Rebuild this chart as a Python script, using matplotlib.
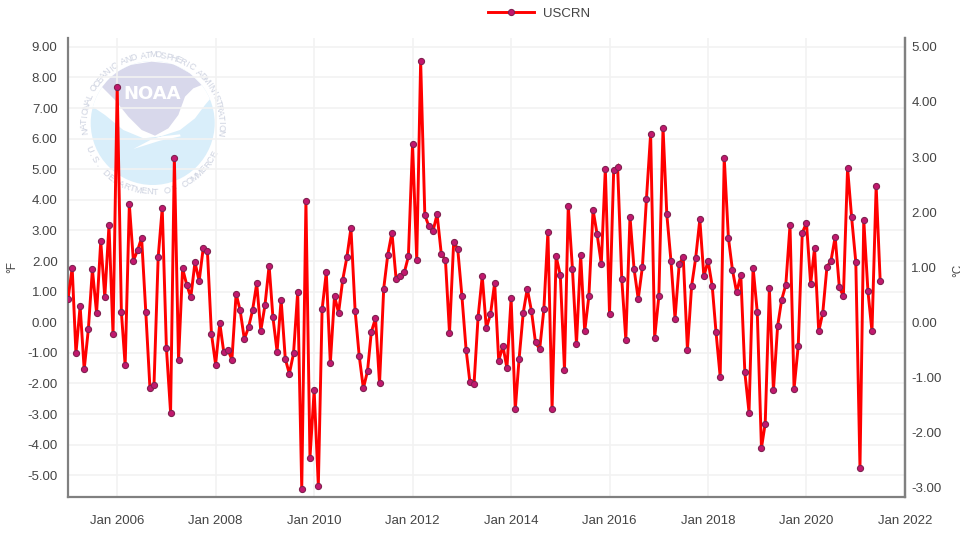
import numpy as np
import pandas as pd
import matplotlib
matplotlib.use("Agg")
import matplotlib.pyplot as plt
import matplotlib.dates as mdates
from matplotlib.patches import Circle, Polygon, Rectangle

plt.rcParams['font.family'] = ['Liberation Sans', 'DejaVu Sans']

values_f = [
 0.75, 1.78, -1.02, 0.53, -1.54, -0.23, 1.73, 0.30, 2.65, 0.82, 3.17, -0.39,
 7.70, 0.33, -1.41, 3.85, 2.01, 2.35, 2.76, 0.34, -2.16, -2.04, 2.13, 3.73,
 -0.84, -2.95, 5.38, -1.24, 1.76, 1.22, 0.82, 1.96, 1.35, 2.42, 2.34, -0.37,
 -1.38, -0.03, -0.96, -0.90, -1.22, 0.93, 0.39, -0.55, -0.17, 0.39, 1.27, -0.28,
 0.55, 1.85, 0.17, -0.96, 0.74, -1.20, -1.68, -1.02, 1.00, -5.45, 3.96, -4.43,
 -2.22, -5.34, 0.42, 1.63, -1.34, 0.86, 0.31, 1.39, 2.13, 3.08, 0.37, -1.09,
 -2.16, -1.59, -0.32, 0.13, -2.00, 1.10, 2.20, 2.93, 1.41, 1.51, 1.63, 2.15,
 5.83, 2.03, 8.54, 3.50, 3.14, 2.99, 3.53, 2.24, 2.03, -0.35, 2.62, 2.40,
 0.86, -0.89, -1.94, -2.02, 0.17, 1.51, -0.19, 0.26, 1.29, -1.26, -0.77, -1.50,
 0.78, -2.85, -1.21, 0.31, 1.10, 0.37, -0.66, -0.88, 0.42, 2.96, -2.83, 2.15,
 1.54, -1.56, 3.81, 1.75, -0.71, 2.20, -0.30, 0.86, 3.67, 2.88, 1.91, 5.02,
 0.28, 4.96, 5.09, 1.41, -0.57, 3.45, 1.75, 0.76, 1.81, 4.03, 6.16, -0.50,
 0.85, 6.36, 3.53, 2.00, 0.12, 1.90, 2.13, -0.89, 1.18, 2.09, 3.36, 1.50,
 2.01, 1.18, -0.32, -1.78, 5.38, 2.76, 1.71, 0.98, 1.54, -1.64, -2.95, 1.79,
 0.34, -4.11, -3.31, 1.11, -2.22, -0.13, 0.73, 1.23, 3.17, -2.17, -0.77, 2.92,
 3.25, 1.25, 2.43, -0.30, 0.31, 1.81, 2.01, 2.79, 1.14, 0.86, 5.04, 3.43,
 1.97, -4.76, 3.35, 1.02, -0.30, 4.45, 1.34,
]
series_name = "USCRN"
start_month = "2005-01-01"
y_ticks_f = [-5, -4, -3, -2, -1, 0, 1, 2, 3, 4, 5, 6, 7, 8, 9]
y_ticks_c = [-3, -2, -1, 0, 1, 2, 3, 4, 5]
x_tick_years = [2006, 2008, 2010, 2012, 2014, 2016, 2018, 2020, 2022]

W, H = 969, 533
fig = plt.figure(figsize=(W / 100, H / 100), dpi=100, facecolor="white")
L, R, T, B = 68, 905, 38, 496.7
rect = [L / W, 1 - B / H, (R - L) / W, (B - T) / H]

# NOAA watermark behind the plot
bg = fig.add_axes([0, 0, 1, 1], zorder=0)
bg.set_xlim(0, W); bg.set_ylim(H, 0); bg.axis("off")
def z(pts):
    return [(80 + a / 3, 50 + b / 3) for a, b in pts]
cx, cy, r = 152.7, 123.0, 62.0
disc = Circle((cx, cy), r, fc="#d9eefa", ec="none")
bg.add_patch(disc)
top = Polygon(z([(35, 168), (75, 195), (130, 240), (190, 265), (300, 253), (302, 259),
                 (240, 272), (160, 297), (215, 268), (300, 240), (345, 205), (375, 165),
                 (402, 133), (420, 0), (0, 0), (0, 168)]), fc="white", ec="none")
bg.add_patch(top); top.set_clip_path(disc)
lav = Polygon(z([(65, 110), (100, 70), (150, 45), (215, 35), (280, 42), (330, 70), (365, 105),
                 (340, 115), (315, 140), (295, 195), (265, 235), (225, 257), (185, 240),
                 (145, 200), (105, 150)]), fc="#d8d8eb", ec="none")
bg.add_patch(lav); lav.set_clip_path(disc)
bg.text(152.5, 94, "NOAA", color="white", fontsize=13, fontweight="bold", ha="center", va="center",
        family=["DejaVu Sans"])
def ring(text, a0, a1, rad, flip=False):
    for ch, a in zip(text, np.linspace(a0, a1, len(text))):
        t = np.radians(a)
        x, y = cx + rad * np.cos(t), cy - rad * np.sin(t)
        rot = a - 90 if not flip else a + 90
        bg.text(x, y, ch, fontsize=6.5, color="#cdd2e0", ha="center", va="center",
                rotation=rot, rotation_mode="anchor")
ring("NATIONAL OCEANIC AND ATMOSPHERIC ADMINISTRATION", 187, -8, 68)
ring("U.S. DEPARTMENT OF COMMERCE", 202, 333, 69, flip=True)

# main chart
ax = fig.add_axes(rect, zorder=1)
ax.patch.set_alpha(0)
dates = pd.date_range(start_month, periods=len(values_f), freq="MS")
line, = ax.plot(dates, values_f, color="#ff0000", lw=2.1, marker="o", ms=4.4,
                mfc="#c2186f", mec="#80204f", mew=0.8, solid_joinstyle="miter", zorder=3,
                label=series_name)
ax.set_xlim(pd.Timestamp("2005-01-01"), pd.Timestamp("2022-01-01"))
ax.set_ylim(-5.70, 9.29)
ax.set_yticks(y_ticks_f)
ax.set_yticklabels([f"{v:.2f}" for v in y_ticks_f])
ax.set_xticks([pd.Timestamp(f"{y}-01-01") for y in x_tick_years])
ax.xaxis.set_major_formatter(mdates.DateFormatter("Jan %Y"))
ax.grid(True, color="#f2f2f2", lw=1.2, zorder=0)
ax.set_axisbelow(True)
for s in ("top",):
    ax.spines[s].set_visible(False)
for s in ("left", "bottom", "right"):
    ax.spines[s].set_color("#808080"); ax.spines[s].set_linewidth(1.6)
ax.tick_params(axis="x", length=0, pad=13, labelsize=9.5, labelcolor="#444444")
ax.tick_params(axis="y", length=0, pad=7.5, labelsize=9.5, labelcolor="#444444")

ax2 = ax.twinx()
ax2.set_ylim(-5.70 / 1.8, 9.29 / 1.8)
ax2.set_yticks(y_ticks_c)
ax2.set_yticklabels([f"{v:.2f}" for v in y_ticks_c])
ax2.tick_params(axis="y", length=0, pad=4.5, labelsize=9.5, labelcolor="#444444")
for s in ("top", "left", "bottom"):
    ax2.spines[s].set_visible(False)
ax2.spines["right"].set_color("#808080"); ax2.spines["right"].set_linewidth(1.6)

fig.text(12 / W, 1 - 267 / H, "°F", rotation=90, ha="center", va="center",
         fontsize=8.5, color="#444444")
fig.text(958.5 / W, 1 - 270 / H, "°C", rotation=90, ha="center", va="center",
         fontsize=8.5, color="#444444", zorder=1)
fig.add_artist(Rectangle((960 / W, 0), 9 / W, 1, transform=fig.transFigure, fc="white", ec="none", zorder=5))

leg = fig.legend(handles=[line], loc="center", bbox_to_anchor=(539 / W, 1 - 13.5 / H), frameon=False,
                 fontsize=9.5, handlelength=3.5, handletextpad=0.65, borderpad=0)
for t in leg.get_texts():
    t.set_color("#444444")

fig.savefig("out.png", dpi=100, facecolor="white")
